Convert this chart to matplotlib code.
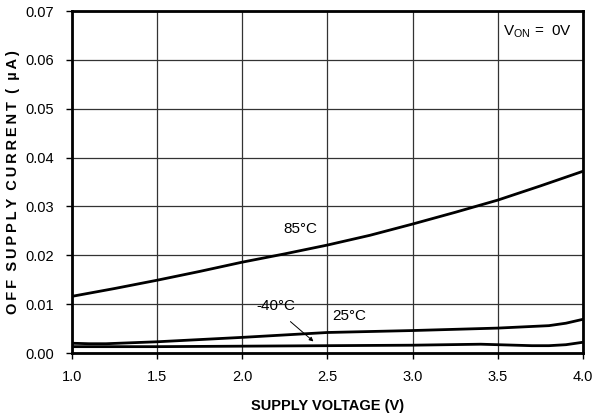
import matplotlib
matplotlib.use("Agg")
import matplotlib.pyplot as plt

plt.rcParams['font.family'] = ['Liberation Sans', 'DejaVu Sans']

# supply voltage (V) and off supply current (uA)
v_85 = [1.0, 1.25, 1.5, 1.75, 2.0, 2.25, 2.5, 2.75, 3.0, 3.25, 3.5, 3.75, 4.0]
i_85 = [0.0116, 0.0132, 0.0149, 0.0167, 0.0186, 0.0203, 0.0221, 0.0241, 0.0264, 0.0288, 0.0313, 0.0342, 0.0372]

v_25 = [1.0, 1.1, 1.2, 1.5, 2.0, 2.5, 3.0, 3.5, 3.8, 3.9, 4.0]
i_25 = [0.0020, 0.0019, 0.0019, 0.0023, 0.0032, 0.0042, 0.0046, 0.0051, 0.0056, 0.0061, 0.0069]

v_m40 = [1.0, 1.5, 2.0, 2.5, 3.0, 3.4, 3.5, 3.7, 3.8, 3.9, 4.0]
i_m40 = [0.0013, 0.0013, 0.0014, 0.0015, 0.0016, 0.0018, 0.0017, 0.0015, 0.0015, 0.0017, 0.0022]

xticks = [1.0, 1.5, 2.0, 2.5, 3.0, 3.5, 4.0]
yticks = [0.00, 0.01, 0.02, 0.03, 0.04, 0.05, 0.06, 0.07]

fig = plt.figure(figsize=(6.01, 4.19), dpi=100)
ax = fig.add_axes([0.1198, 0.1575, 0.8502, 0.8162])

ax.plot(v_85, i_85, color='black', lw=2)
ax.plot(v_25, i_25, color='black', lw=2)
ax.plot(v_m40, i_m40, color='black', lw=2)

ax.set_xlim(1.0, 4.0)
ax.set_ylim(0.0, 0.07)
ax.set_xticks(xticks)
ax.set_yticks(yticks)
ax.set_xticklabels([f"{t:.1f}" for t in xticks])
ax.set_yticklabels([f"{t:.2f}" for t in yticks])
ax.tick_params(direction='out', length=4, width=1, labelsize=10.5)
ax.tick_params(axis='x', pad=8)
ax.tick_params(axis='y', pad=9)
ax.grid(True, color='#333333', lw=0.9)
for s in ax.spines.values():
    s.set_linewidth(2)

# spread the letters of the y label a little, like the original
ylab = "  ".join("\u2009".join(w) for w in ["OFF", "SUPPLY", "CURRENT", "(", "µA)"])
ax.set_xlabel("SUPPLY VOLTAGE (V)", fontsize=10.5, fontweight='bold', labelpad=11)
ax.set_ylabel(ylab, fontsize=10.5, fontweight='bold', labelpad=4)

ax.text(2.24, 0.0246, "85°C", fontsize=11)
ax.text(2.53, 0.0068, "25°C", fontsize=11)
ax.text(2.08, 0.0088, "-40°C", fontsize=11)
ax.annotate("", xy=(2.43, 0.0020), xytext=(2.27, 0.0068),
            arrowprops=dict(arrowstyle='-|>', color='black', lw=0.7, mutation_scale=6))
ax.text(3.53, 0.0651, "V$_{\\mathregular{ON}}$ =  0V", fontsize=11)

fig.savefig("out.png", dpi=100)
